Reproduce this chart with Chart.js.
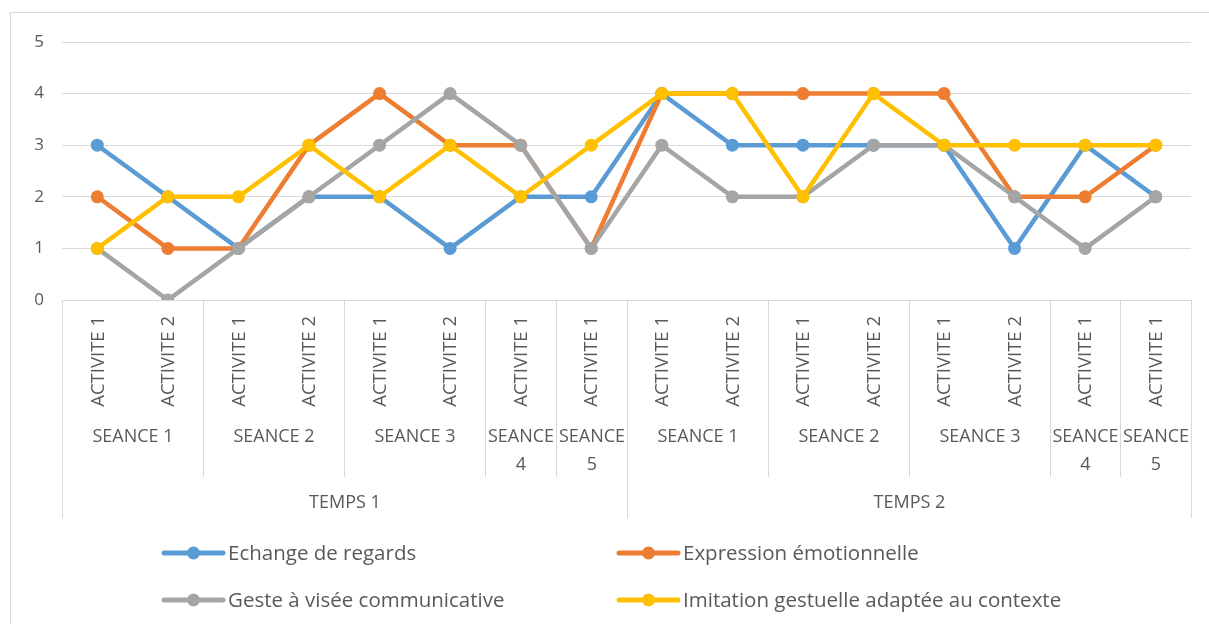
<!DOCTYPE html>
<html>
<head>
<meta charset="utf-8">
<script src="https://cdn.jsdelivr.net/npm/chart.js@4.4.9/dist/chart.umd.min.js"></script>
<style>
    html, body { margin: 0; background: #ffffff; }
    #wrap { position: relative; width: 1209px; height: 624px; }
</style>
</head>
<body>
<div id="wrap"><canvas id="activityChart"></canvas></div>
<script>
const activities = [
    'ACTIVITE 1', 'ACTIVITE 2', 'ACTIVITE 1', 'ACTIVITE 2', 'ACTIVITE 1', 'ACTIVITE 2', 'ACTIVITE 1', 'ACTIVITE 1',
    'ACTIVITE 1', 'ACTIVITE 2', 'ACTIVITE 1', 'ACTIVITE 2', 'ACTIVITE 1', 'ACTIVITE 2', 'ACTIVITE 1', 'ACTIVITE 1'
];
const seanceLabels = ['SEANCE 1', 'SEANCE 2', 'SEANCE 3', 'SEANCE 4', 'SEANCE 5', 'SEANCE 1', 'SEANCE 2', 'SEANCE 3', 'SEANCE 4', 'SEANCE 5'];
const seanceSpans = [2, 2, 2, 1, 1, 2, 2, 2, 1, 1];
const tempsLabels = ['TEMPS 1', 'TEMPS 2'];
const tempsSpans = [8, 8];

const echangeRegards = [3, 2, 1, 2, 2, 1, 2, 2, 4, 3, 3, 3, 3, 1, 3, 2];
const expressionEmotionnelle = [2, 1, 1, 3, 4, 3, 3, 1, 4, 4, 4, 4, 4, 2, 2, 3];
const gesteCommunicatif = [1, 0, 1, 2, 3, 4, 3, 1, 3, 2, 2, 3, 3, 2, 1, 2];
const imitationGestuelle = [1, 2, 2, 3, 2, 3, 2, 3, 4, 4, 2, 4, 3, 3, 3, 3];
const yMin = 0;
const yMax = 5;

const FONT = "'Open Sans', Arial, sans-serif";
const TEXT = '#595959';
const LINE = '#d9d9d9';

const series = (label, data, color, order) => ({
    label,
    data,
    order,
    borderColor: color,
    backgroundColor: color,
    borderWidth: 4.5,
    pointRadius: 6.5,
    pointHoverRadius: 6.5,
    pointBorderWidth: 0,
    pointBackgroundColor: color,
    tension: 0
});

// frame + multi level category axis + two-column legend
const excelBits = {
    id: 'excelBits',
    beforeDraw(chart) {
        const ctx = chart.ctx;
        ctx.save();
        ctx.strokeStyle = LINE;
        ctx.lineWidth = 1;
        ctx.strokeRect(10.5, 12.5, 1400, 800);
        ctx.restore();
    },
    afterDraw(chart) {
        const ctx = chart.ctx;
        const x = chart.scales.x;
        const bottom = chart.chartArea.bottom;
        const edge = k => Math.round(x.getPixelForValue(k - 0.5)) + 0.5;
        const vline = (px, y1, y2) => {
            ctx.beginPath();
            ctx.moveTo(px, y1);
            ctx.lineTo(px, y2);
            ctx.stroke();
        };
        ctx.save();
        ctx.strokeStyle = LINE;
        ctx.lineWidth = 1;
        ctx.fillStyle = TEXT;

        // level 1: activities, rotated
        ctx.font = `18.5px ${FONT}`;
        ctx.textAlign = 'right';
        ctx.textBaseline = 'middle';
        chart.data.labels.forEach((label, i) => {
            ctx.save();
            ctx.translate(x.getPixelForValue(i) + 1, bottom + 16);
            ctx.rotate(-Math.PI / 2);
            ctx.fillText(label, 0, 0);
            ctx.restore();
        });

        ctx.font = `18px ${FONT}`;
        ctx.textAlign = 'center';
        let k = 0;
        seanceLabels.forEach((label, i) => {
            const a = edge(k), b = edge(k + seanceSpans[i]);
            vline(a, bottom, 477);
            vline(b, bottom, 477);
            const cx = (a + b) / 2;
            if (ctx.measureText(label).width > b - a - 2) {
                label.split(' ').forEach((part, j) => ctx.fillText(part, cx, 437 + j * 28));
            } else {
                ctx.fillText(label, cx, 437);
            }
            k += seanceSpans[i];
        });

        k = 0;
        tempsLabels.forEach((label, i) => {
            const a = edge(k), b = edge(k + tempsSpans[i]);
            vline(a, bottom, 518);
            vline(b, bottom, 518);
            ctx.fillText(label, (a + b) / 2, 503);
            k += tempsSpans[i];
        });

        // legend
        const cols = [162, 617];
        const rows = [553, 600];
        ctx.font = `20.5px ${FONT}`;
        ctx.textAlign = 'left';
        chart.data.datasets.forEach((ds, i) => {
            const lx = cols[i % 2];
            const ly = rows[Math.floor(i / 2)];
            ctx.strokeStyle = ds.borderColor;
            ctx.lineWidth = 5;
            ctx.lineCap = 'round';
            ctx.beginPath();
            ctx.moveTo(lx + 2, ly);
            ctx.lineTo(lx + 61, ly);
            ctx.stroke();
            ctx.fillStyle = ds.borderColor;
            ctx.beginPath();
            ctx.arc(lx + 31.5, ly, 6.5, 0, Math.PI * 2);
            ctx.fill();
            ctx.fillStyle = TEXT;
            ctx.fillText(ds.label, lx + 66, ly + 1);
        });
        ctx.restore();
    }
};

new Chart(document.getElementById('activityChart').getContext('2d'), {
    type: 'line',
    data: {
        labels: activities,
        datasets: [
            series('Echange de regards', echangeRegards, '#5b9bd5', 3),
            series('Expression émotionnelle', expressionEmotionnelle, '#ed7d31', 2),
            series('Geste à visée communicative', gesteCommunicatif, '#a5a5a5', 1),
            series('Imitation gestuelle adaptée au contexte', imitationGestuelle, '#ffc000', 0)
        ]
    },
    options: {
        responsive: true,
        maintainAspectRatio: false,
        animation: false,
        devicePixelRatio: 1,
        layout: { padding: { left: 12, top: 42, right: 18, bottom: 323 } },
        plugins: {
            legend: { display: false },
            tooltip: { enabled: false }
        },
        scales: {
            x: {
                offset: true,
                grid: { display: false },
                border: { display: true, color: LINE, width: 1 },
                ticks: { display: false },
                afterFit: scale => { scale.height = 1; }
            },
            y: {
                min: yMin,
                max: yMax,
                grid: { color: LINE, lineWidth: 1, drawTicks: false },
                border: { display: false },
                ticks: {
                    stepSize: 1,
                    padding: 18,
                    color: TEXT,
                    font: { family: FONT, size: 17 }
                },
                afterFit: scale => { scale.width = 50; }
            }
        }
    },
    plugins: [excelBits]
});
</script>
</body>
</html>
